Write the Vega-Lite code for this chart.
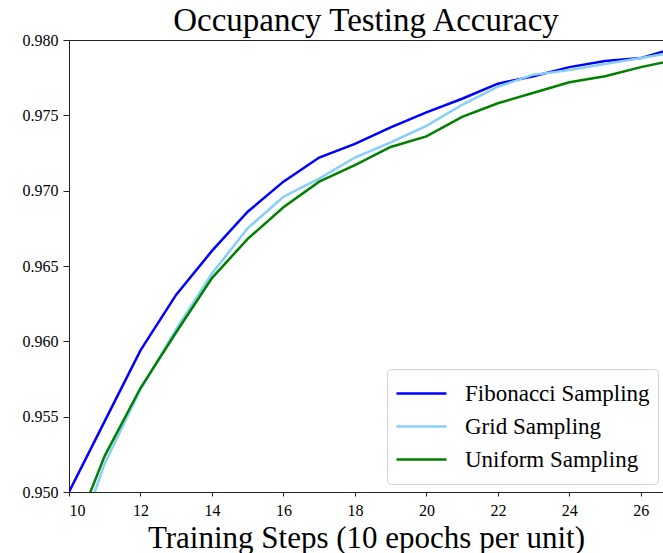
{
  "$schema": "https://vega.github.io/schema/vega-lite/v6.json",
  "autosize": "none",
  "padding": {"left": 69, "top": 40, "right": 0, "bottom": 61},
  "width": 594,
  "height": 452,
  "title": {"text": "Occupancy Testing Accuracy", "font": "Liberation Serif", "fontSize": 33, "fontWeight": "normal", "color": "#000000", "offset": -6},
  "config": {
    "view": {"stroke": "#222222", "strokeWidth": 1},
    "axis": {"labelFont": "Liberation Serif", "titleFont": "Liberation Serif", "labelColor": "#000000", "titleColor": "#000000", "domainColor": "#222222", "tickColor": "#222222", "grid": false, "labelFontSize": 16}
  },
  "data": {"values": [
    {"step": 10, "acc": 0.9500, "method": "Fibonacci Sampling"},
    {"step": 11, "acc": 0.9547, "method": "Fibonacci Sampling"},
    {"step": 12, "acc": 0.9594, "method": "Fibonacci Sampling"},
    {"step": 13, "acc": 0.9631, "method": "Fibonacci Sampling"},
    {"step": 14, "acc": 0.9660, "method": "Fibonacci Sampling"},
    {"step": 15, "acc": 0.9686, "method": "Fibonacci Sampling"},
    {"step": 16, "acc": 0.9706, "method": "Fibonacci Sampling"},
    {"step": 17, "acc": 0.9722, "method": "Fibonacci Sampling"},
    {"step": 18, "acc": 0.9731, "method": "Fibonacci Sampling"},
    {"step": 19, "acc": 0.9742, "method": "Fibonacci Sampling"},
    {"step": 20, "acc": 0.9752, "method": "Fibonacci Sampling"},
    {"step": 21, "acc": 0.9761, "method": "Fibonacci Sampling"},
    {"step": 22, "acc": 0.9771, "method": "Fibonacci Sampling"},
    {"step": 23, "acc": 0.9776, "method": "Fibonacci Sampling"},
    {"step": 24, "acc": 0.9782, "method": "Fibonacci Sampling"},
    {"step": 25, "acc": 0.9786, "method": "Fibonacci Sampling"},
    {"step": 26, "acc": 0.9788, "method": "Fibonacci Sampling"},
    {"step": 27, "acc": 0.9795, "method": "Fibonacci Sampling"},
    {"step": 10, "acc": 0.9451, "method": "Grid Sampling"},
    {"step": 11, "acc": 0.9519, "method": "Grid Sampling"},
    {"step": 12, "acc": 0.9568, "method": "Grid Sampling"},
    {"step": 13, "acc": 0.9608, "method": "Grid Sampling"},
    {"step": 14, "acc": 0.9645, "method": "Grid Sampling"},
    {"step": 15, "acc": 0.9675, "method": "Grid Sampling"},
    {"step": 16, "acc": 0.9696, "method": "Grid Sampling"},
    {"step": 17, "acc": 0.9708, "method": "Grid Sampling"},
    {"step": 18, "acc": 0.9722, "method": "Grid Sampling"},
    {"step": 19, "acc": 0.9732, "method": "Grid Sampling"},
    {"step": 20, "acc": 0.9743, "method": "Grid Sampling"},
    {"step": 21, "acc": 0.9757, "method": "Grid Sampling"},
    {"step": 22, "acc": 0.9769, "method": "Grid Sampling"},
    {"step": 23, "acc": 0.9777, "method": "Grid Sampling"},
    {"step": 24, "acc": 0.9780, "method": "Grid Sampling"},
    {"step": 25, "acc": 0.9784, "method": "Grid Sampling"},
    {"step": 26, "acc": 0.9788, "method": "Grid Sampling"},
    {"step": 27, "acc": 0.9792, "method": "Grid Sampling"},
    {"step": 10, "acc": 0.9464, "method": "Uniform Sampling"},
    {"step": 11, "acc": 0.9524, "method": "Uniform Sampling"},
    {"step": 12, "acc": 0.9569, "method": "Uniform Sampling"},
    {"step": 13, "acc": 0.9606, "method": "Uniform Sampling"},
    {"step": 14, "acc": 0.9642, "method": "Uniform Sampling"},
    {"step": 15, "acc": 0.9668, "method": "Uniform Sampling"},
    {"step": 16, "acc": 0.9689, "method": "Uniform Sampling"},
    {"step": 17, "acc": 0.9706, "method": "Uniform Sampling"},
    {"step": 18, "acc": 0.9717, "method": "Uniform Sampling"},
    {"step": 19, "acc": 0.9729, "method": "Uniform Sampling"},
    {"step": 20, "acc": 0.9736, "method": "Uniform Sampling"},
    {"step": 21, "acc": 0.9749, "method": "Uniform Sampling"},
    {"step": 22, "acc": 0.9758, "method": "Uniform Sampling"},
    {"step": 23, "acc": 0.9765, "method": "Uniform Sampling"},
    {"step": 24, "acc": 0.9772, "method": "Uniform Sampling"},
    {"step": 25, "acc": 0.9776, "method": "Uniform Sampling"},
    {"step": 26, "acc": 0.9782, "method": "Uniform Sampling"},
    {"step": 27, "acc": 0.9787, "method": "Uniform Sampling"}
  ]},
  "mark": {"type": "line", "clip": true, "strokeWidth": 2.5},
  "encoding": {
    "x": {"field": "step", "type": "quantitative", "scale": {"domain": [10, 26.62], "nice": false, "zero": false},
      "axis": {"values": [10, 12, 14, 16, 18, 20, 22, 24, 26], "title": "Training Steps (10 epochs per unit)", "titleFontSize": 31, "titleFontWeight": "normal", "titlePadding": 5, "tickSize": 4, "labelPadding": 6}},
    "y": {"field": "acc", "type": "quantitative", "scale": {"domain": [0.95, 0.98], "nice": false, "zero": false},
      "axis": {"values": [0.95, 0.955, 0.96, 0.965, 0.97, 0.975, 0.98], "format": ".3f", "title": null, "tickSize": 6, "labelPadding": 5}},
    "color": {"field": "method", "type": "nominal",
      "scale": {"domain": ["Fibonacci Sampling", "Grid Sampling", "Uniform Sampling"], "range": ["#0000ff", "#87cefa", "#008000"]},
      "legend": {"title": null, "orient": "none", "legendX": 318, "legendY": 329, "symbolType": "M-1,0H1", "symbolSize": 2500, "symbolStrokeWidth": 2.5,
        "labelFont": "Liberation Serif", "labelFontSize": 23, "labelColor": "#000000", "labelOffset": 17, "rowPadding": 0, "symbolLimit": 0,
        "padding": 8, "strokeColor": "#d0d0d0", "fillColor": "#ffffff", "cornerRadius": 4, "labelLimit": 400, "clipHeight": 33}}
  }
}
